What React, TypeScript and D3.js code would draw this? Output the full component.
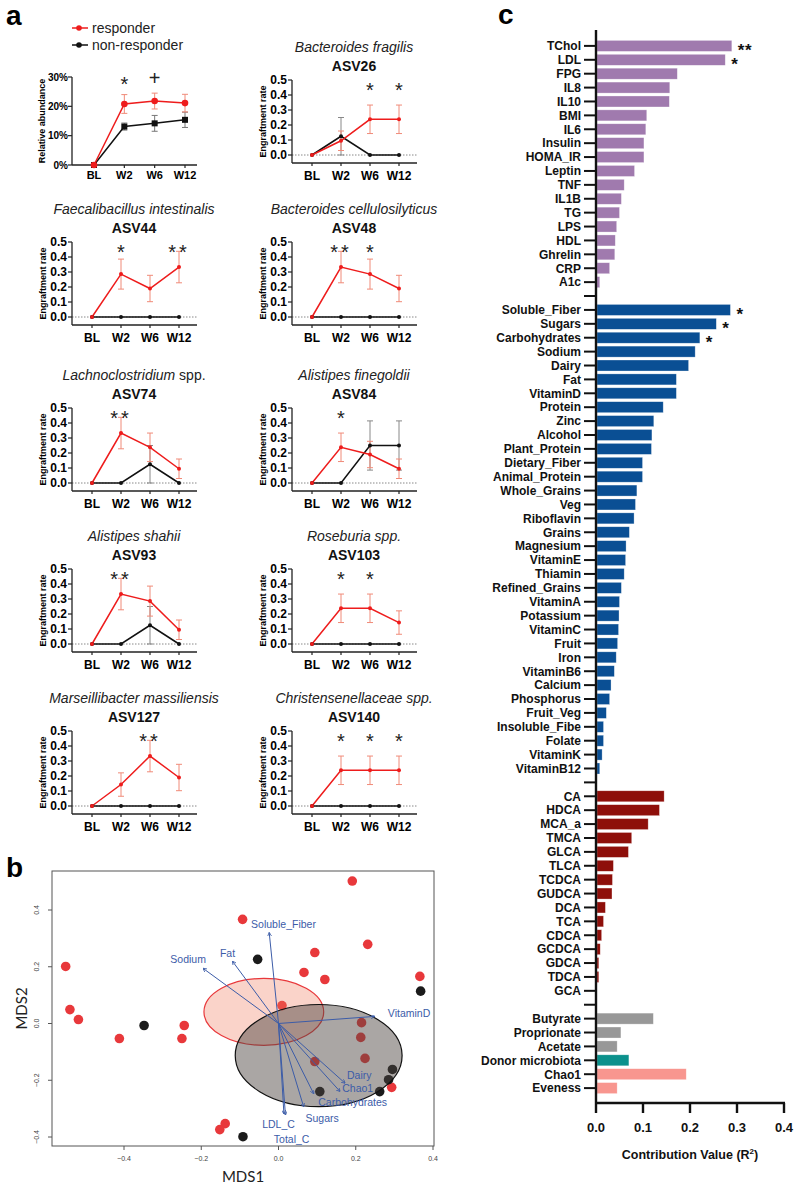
import React from "react";
import * as d3 from "d3";

const FONT = "'Liberation Sans', Arial, Helvetica, sans-serif";

// ---------- Panel a data ----------
const timepoints = ["BL", "W2", "W6", "W12"];
const relAbundResp = [0, 20.8, 21.8, 21.1];
const relAbundRespErr = [0, 3.2, 2.7, 3.0];
const relAbundNon = [0, 13.1, 14.2, 15.4];
const relAbundNonErr = [0, 1.2, 2.7, 2.6];
const relAbundMarks = ["", "*", "+", ""];
const relAbundTicks = [0, 10, 20, 30];

const asvIds = ["ASV26", "ASV44", "ASV48", "ASV74", "ASV84", "ASV93", "ASV103", "ASV127", "ASV140"];
const asvSpecies = [
  "Bacteroides fragilis",
  "Faecalibacillus intestinalis",
  "Bacteroides cellulosilyticus",
  "Lachnoclostridium",
  "Alistipes finegoldii",
  "Alistipes shahii",
  "Roseburia spp.",
  "Marseillibacter massiliensis",
  "Christensenellaceae spp.",
];
const asvSuffix = ["", "", "", " spp.", "", "", "", "", ""];
const respRate = [
  [0, 0.095, 0.238, 0.238],
  [0, 0.286, 0.19, 0.333],
  [0, 0.333, 0.286, 0.19],
  [0, 0.333, 0.238, 0.095],
  [0, 0.238, 0.19, 0.095],
  [0, 0.333, 0.286, 0.095],
  [0, 0.238, 0.238, 0.143],
  [0, 0.143, 0.333, 0.19],
  [0, 0.238, 0.238, 0.238],
];
const respErr = [
  [0, 0.065, 0.095, 0.095],
  [0, 0.1, 0.088, 0.105],
  [0, 0.105, 0.1, 0.088],
  [0, 0.105, 0.095, 0.065],
  [0, 0.095, 0.088, 0.065],
  [0, 0.105, 0.1, 0.065],
  [0, 0.095, 0.095, 0.078],
  [0, 0.078, 0.105, 0.088],
  [0, 0.095, 0.095, 0.095],
];
const nonRate = [
  [0, 0.125, 0, 0],
  [0, 0, 0, 0],
  [0, 0, 0, 0],
  [0, 0, 0.125, 0],
  [0, 0, 0.25, 0.25],
  [0, 0, 0.125, 0],
  [0, 0, 0, 0],
  [0, 0, 0, 0],
  [0, 0, 0, 0],
];
const nonErr = [
  [0, 0.125, 0, 0],
  [0, 0, 0, 0],
  [0, 0, 0, 0],
  [0, 0, 0.125, 0],
  [0, 0, 0.164, 0.164],
  [0, 0, 0.125, 0],
  [0, 0, 0, 0],
  [0, 0, 0, 0],
  [0, 0, 0, 0],
];
const asvMarks = [
  ["", "", "*", "*"],
  ["", "*", "", "**"],
  ["", "**", "*", ""],
  ["", "**", "", ""],
  ["", "*", "", ""],
  ["", "**", "", ""],
  ["", "*", "*", ""],
  ["", "", "**", ""],
  ["", "*", "*", "*"],
];
const rateTicks = [0, 0.1, 0.2, 0.3, 0.4, 0.5];

// ---------- Panel b data ----------
const respMDS1 = [-0.551, -0.54, -0.518, -0.412, -0.244, -0.25, -0.093, 0.094, 0.066, 0.12, 0.231, 0.191, 0.009, 0.215, 0.213, 0.224, 0.094, 0.293, -0.138, -0.152, 0.366];
const respMDS2 = [0.201, 0.049, 0.014, -0.053, -0.007, -0.053, 0.367, 0.25, 0.18, 0.155, 0.279, 0.502, 0.063, 0.003, -0.049, -0.123, -0.134, -0.225, -0.353, -0.374, 0.166];
const nonMDS1 = [-0.054, -0.348, -0.092, 0.107, 0.262, 0.285, 0.295, 0.368];
const nonMDS2 = [0.226, -0.007, -0.399, -0.24, -0.24, -0.198, -0.162, 0.114];
const mdsTicks = [-0.4, -0.2, 0, 0.2, 0.4];
const vecNames = ["Soluble_Fiber", "Fat", "Sodium", "VitaminD", "Dairy", "Chao1", "Carbohydrates", "Sugars", "LDL_C", "Total_C"];
const vecX = [-0.024, -0.119, -0.195, 0.249, 0.172, 0.159, 0.091, 0.065, 0.014, 0.018];
const vecY = [0.32, 0.219, 0.194, 0.025, -0.21, -0.239, -0.247, -0.293, -0.318, -0.322];
const vecLabelX = [0.013, -0.132, -0.234, 0.338, 0.209, 0.205, 0.192, 0.113, 0.0, 0.034];
const vecLabelY = [0.349, 0.25, 0.226, 0.036, -0.18, -0.229, -0.275, -0.332, -0.353, -0.406];
// ellipses: center x, center y, radius x, radius y
const respEllipse = [-0.038, 0.041, 0.155, 0.118];
const nonEllipse = [0.104, -0.113, 0.216, 0.18];

// ---------- Panel c data ----------
const hostLabels = ["TChol", "LDL", "FPG", "IL8", "IL10", "BMI", "IL6", "Insulin", "HOMA_IR", "Leptin", "TNF", "IL1B", "TG", "LPS", "HDL", "Ghrelin", "CRP", "A1c"];
const hostValues = [0.289, 0.275, 0.173, 0.157, 0.156, 0.108, 0.106, 0.102, 0.102, 0.082, 0.06, 0.054, 0.05, 0.044, 0.041, 0.04, 0.029, 0.008];
const dietLabels = ["Soluble_Fiber", "Sugars", "Carbohydrates", "Sodium", "Dairy", "Fat", "VitaminD", "Protein", "Zinc", "Alcohol", "Plant_Protein", "Dietary_Fiber", "Animal_Protein", "Whole_Grains", "Veg", "Riboflavin", "Grains", "Magnesium", "VitaminE", "Thiamin", "Refined_Grains", "VitaminA", "Potassium", "VitaminC", "Fruit", "Iron", "VitaminB6", "Calcium", "Phosphorus", "Fruit_Veg", "Insoluble_Fibe", "Folate", "VitaminK", "VitaminB12"];
const dietValues = [0.286, 0.256, 0.221, 0.211, 0.197, 0.171, 0.171, 0.143, 0.123, 0.119, 0.118, 0.099, 0.099, 0.087, 0.084, 0.081, 0.071, 0.064, 0.063, 0.06, 0.054, 0.05, 0.049, 0.048, 0.046, 0.043, 0.039, 0.032, 0.029, 0.022, 0.016, 0.016, 0.013, 0.008];
const bileLabels = ["CA", "HDCA", "MCA_a", "TMCA", "GLCA", "TLCA", "TCDCA", "GUDCA", "DCA", "TCA", "CDCA", "GCDCA", "GDCA", "TDCA", "GCA"];
const bileValues = [0.145, 0.135, 0.111, 0.076, 0.069, 0.037, 0.035, 0.034, 0.02, 0.016, 0.012, 0.009, 0.006, 0.006, 0];
const otherLabels = ["Butyrate", "Proprionate", "Acetate", "Donor microbiota", "Chao1", "Eveness"];
const otherValues = [0.122, 0.053, 0.045, 0.07, 0.192, 0.045];
const otherColors = ["#989898", "#989898", "#989898", "#0b918c", "#f8968f", "#f8968f"];
const barStars: Record<string, string> = { TChol: "**", LDL: "*", Soluble_Fiber: "*", Sugars: "*", Carbohydrates: "*" };
const contribTicks = [0, 0.1, 0.2, 0.3, 0.4];

const RED = "#ee1c1c";
const RED_ERR = "#f08a78";
const BLACK = "#111";

type Row = { key: string; label: string; value: number; color: string };

function buildRows(): Row[] {
  const rows: Row[] = [];
  hostLabels.forEach((l, i) => rows.push({ key: "h_" + l, label: l, value: hostValues[i], color: "#a07aae" }));
  rows.push({ key: "gap1", label: "", value: 0, color: "none" });
  dietLabels.forEach((l, i) => rows.push({ key: "d_" + l, label: l, value: dietValues[i], color: "#0a4f94" }));
  rows.push({ key: "gap2", label: "", value: 0, color: "none" });
  bileLabels.forEach((l, i) => rows.push({ key: "b_" + l, label: l, value: bileValues[i], color: "#8e0f0a" }));
  rows.push({ key: "gap3", label: "", value: 0, color: "none" });
  otherLabels.forEach((l, i) => rows.push({ key: "o_" + l, label: l, value: otherValues[i], color: otherColors[i] }));
  return rows;
}

function ErrBar({ x, y0, y1, color }: { x: number; y0: number; y1: number; color: string }) {
  return (
    <g stroke={color} strokeWidth={1}>
      <line x1={x} x2={x} y1={y0} y2={y1} />
      <line x1={x - 3} x2={x + 3} y1={y0} y2={y0} />
      <line x1={x - 3} x2={x + 3} y1={y1} y2={y1} />
    </g>
  );
}

function StarMark({ x, y, s }: { x: number; y: number; s: string }) {
  if (!s) return null;
  const isPlus = s === "+";
  return (
    <text x={x} y={y} textAnchor="middle" fontFamily={FONT} fontSize={isPlus ? 20 : 20} letterSpacing={s.length > 1 ? 3 : 0} fill="#222">
      {s}
    </text>
  );
}

function AbundancePanel() {
  const x0 = 72;
  const x = d3.scalePoint<string>().domain(timepoints).range([94, 185]);
  const y = d3.scaleLinear().domain([0, 30]).range([165, 77]);
  const line = d3.line<number>().x((_, i) => x(timepoints[i])!).y((d) => y(d));
  return (
    <g fontFamily={FONT}>
      {/* legend */}
      <line x1={72} x2={88} y1={28} y2={28} stroke={RED} strokeWidth={1.5} />
      <circle cx={79} cy={28} r={2.8} fill={RED} />
      <text x={92} y={33} fontSize={14} fill="#222">responder</text>
      <line x1={72} x2={88} y1={45} y2={45} stroke={BLACK} strokeWidth={1.5} />
      <circle cx={79} cy={45} r={2.8} fill={BLACK} />
      <text x={92} y={50} fontSize={14} fill="#222">non-responder</text>

      <line x1={x0} x2={x0} y1={y(30)} y2={y(0)} stroke="#222" strokeWidth={1.3} />
      <line x1={x0} x2={x0 + 125} y1={y(0)} y2={y(0)} stroke="#222" strokeWidth={1.3} />
      {relAbundTicks.map((t) => (
        <g key={t}>
          <line x1={x0 - 4} x2={x0} y1={y(t)} y2={y(t)} stroke="#222" strokeWidth={1.2} />
          <text x={x0 - 4} y={y(t) + 3.5} fontSize={10} fontWeight="bold" textAnchor="end">{t + "%"}</text>
        </g>
      ))}
      {timepoints.map((t) => (
        <g key={t}>
          <line x1={x(t)} x2={x(t)} y1={y(0)} y2={y(0) + 3} stroke="#222" strokeWidth={1.2} />
          <text x={x(t)} y={y(0) + 14} fontSize={11} fontWeight="bold" textAnchor="middle">{t}</text>
        </g>
      ))}
      <text transform={`translate(45,${(y(30) + y(0)) / 2}) rotate(-90)`} fontSize={9} fontWeight="bold" textAnchor="middle">Relative abundance</text>

      {relAbundNon.map((v, i) => relAbundNonErr[i] > 0 ? (
        <ErrBar key={"ne" + i} x={x(timepoints[i])!} y0={y(v - relAbundNonErr[i])} y1={y(v + relAbundNonErr[i])} color="#777" />
      ) : null)}
      {relAbundResp.map((v, i) => relAbundRespErr[i] > 0 ? (
        <ErrBar key={"re" + i} x={x(timepoints[i])!} y0={y(v - relAbundRespErr[i])} y1={y(v + relAbundRespErr[i])} color={RED_ERR} />
      ) : null)}
      <path d={line(relAbundNon)!} fill="none" stroke={BLACK} strokeWidth={1.5} />
      <path d={line(relAbundResp)!} fill="none" stroke={RED} strokeWidth={1.5} />
      {relAbundNon.map((v, i) => (
        <rect key={"ns" + i} x={x(timepoints[i])! - 3} y={y(v) - 3} width={6} height={6} fill={BLACK} />
      ))}
      {relAbundResp.map((v, i) => (
        <circle key={"rc" + i} cx={x(timepoints[i])!} cy={y(v)} r={3.3} fill={RED} />
      ))}
      {relAbundMarks.map((m, i) => (
        <StarMark key={"m" + i} x={x(timepoints[i])!} y={y(30) + (m === "+" ? 8 : 14)} s={m} />
      ))}
    </g>
  );
}

function EngraftPanel({ i, x0, top }: { i: number; x0: number; top: number }) {
  const x = d3.scalePoint<string>().domain(timepoints).range([x0 + 20, x0 + 107]);
  const y = d3.scaleLinear().domain([0, 0.5]).range([top + 75, top]);
  const line = d3.line<number>().x((_, k) => x(timepoints[k])!).y((d) => y(d));
  const axisY = y(0) + 8;
  const cx = x0 + 62;
  return (
    <g fontFamily={FONT}>
      <text x={cx} y={top - 28} fontSize={14} textAnchor="middle" fill="#222">
        <tspan fontStyle="italic">{asvSpecies[i]}</tspan>
        {asvSuffix[i] ? <tspan>{asvSuffix[i]}</tspan> : null}
      </text>
      <text x={cx} y={top - 9} fontSize={14} fontWeight="bold" textAnchor="middle" fill="#111">{asvIds[i]}</text>

      <line x1={x0} x2={x0 + 125} y1={y(0)} y2={y(0)} stroke="#888" strokeWidth={1} strokeDasharray="1.5,1.5" />
      <line x1={x0} x2={x0} y1={y(0.5)} y2={axisY} stroke="#222" strokeWidth={1.3} />
      <line x1={x0} x2={x0 + 125} y1={axisY} y2={axisY} stroke="#222" strokeWidth={1.3} />
      {rateTicks.map((t) => (
        <g key={t}>
          <line x1={x0 - 4} x2={x0} y1={y(t)} y2={y(t)} stroke="#222" strokeWidth={1.2} />
          <text x={x0 - 5} y={y(t) + 4} fontSize={12} fontWeight="bold" textAnchor="end">{d3.format(".1f")(t)}</text>
        </g>
      ))}
      {timepoints.map((t) => (
        <g key={t}>
          <line x1={x(t)} x2={x(t)} y1={axisY} y2={axisY + 3} stroke="#222" strokeWidth={1.2} />
          <text x={x(t)} y={axisY + 17} fontSize={12} fontWeight="bold" textAnchor="middle">{t}</text>
        </g>
      ))}
      <text transform={`translate(${x0 - 26},${y(0.25) + 4}) rotate(-90)`} fontSize={9} fontWeight="bold" textAnchor="middle">Engraftment rate</text>

      {nonRate[i].map((v, k) => nonErr[i][k] > 0 ? (
        <ErrBar key={"ne" + k} x={x(timepoints[k])!} y0={y(Math.max(0, v - nonErr[i][k]))} y1={y(v + nonErr[i][k])} color="#888" />
      ) : null)}
      {respRate[i].map((v, k) => respErr[i][k] > 0 ? (
        <ErrBar key={"re" + k} x={x(timepoints[k])!} y0={y(v - respErr[i][k])} y1={y(v + respErr[i][k])} color={RED_ERR} />
      ) : null)}
      <path d={line(nonRate[i])!} fill="none" stroke={BLACK} strokeWidth={1.5} />
      <path d={line(respRate[i])!} fill="none" stroke={RED} strokeWidth={1.5} />
      {nonRate[i].map((v, k) => (
        <circle key={"nc" + k} cx={x(timepoints[k])!} cy={y(v)} r={2} fill={BLACK} />
      ))}
      {respRate[i].map((v, k) => (
        <circle key={"rc" + k} cx={x(timepoints[k])!} cy={y(v)} r={2} fill={RED} />
      ))}
      {asvMarks[i].map((m, k) => (
        <StarMark key={"m" + k} x={x(timepoints[k])!} y={top + 17} s={m} />
      ))}
    </g>
  );
}

function MDSPanel() {
  const x = d3.scaleLinear().domain([-0.4, 0.4]).range([124, 433]);
  const y = d3.scaleLinear().domain([-0.4, 0.4]).range([1137, 910]);
  const box = { l: 52, r: 434, t: 871, b: 1146 };
  const BLUE = "#3c5ca8";
  const ell = (e: number[]) => ({
    cx: x(e[0]),
    cy: y(e[1]),
    rx: x(e[0] + e[2]) - x(e[0]),
    ry: y(e[1]) - y(e[1] + e[3]),
  });
  const re = ell(respEllipse);
  const ne = ell(nonEllipse);
  return (
    <g>
      <defs>
        <marker id="arr" viewBox="0 0 10 10" refX="9" refY="5" markerWidth="4" markerHeight="4" orient="auto">
          <path d="M0,0 L10,5 L0,10" fill="none" stroke={BLUE} strokeWidth={2} />
        </marker>
      </defs>
      <rect x={box.l} y={box.t} width={box.r - box.l} height={box.b - box.t} fill="none" stroke="#555" strokeWidth={1} />
      {mdsTicks.map((t) => (
        <g key={"x" + t}>
          <line x1={x(t)} x2={x(t)} y1={box.b} y2={box.b + 4} stroke="#555" />
          <text x={x(t)} y={box.b + 15} fontSize={7} fontFamily={FONT} fill="#444" textAnchor="middle">{d3.format(".1f")(t)}</text>
        </g>
      ))}
      {mdsTicks.map((t) => (
        <g key={"y" + t}>
          <line x1={box.l - 4} x2={box.l} y1={y(t)} y2={y(t)} stroke="#555" />
          <text transform={`translate(${box.l - 13},${y(t)}) rotate(-90)`} fontSize={7} fontFamily={FONT} fill="#444" textAnchor="middle">{d3.format(".1f")(t)}</text>
        </g>
      ))}
      <text x={(box.l + box.r) / 2} y={1182} fontSize={15} fontFamily="Lato, 'Open Sans', sans-serif" textAnchor="middle" fill="#222">MDS1</text>
      <text transform={`translate(27,${(box.t + box.b) / 2}) rotate(-90)`} fontSize={15} fontFamily="Lato, 'Open Sans', sans-serif" textAnchor="middle" fill="#222">MDS2</text>

      {respMDS1.map((v, i) => (
        <circle key={"r" + i} cx={x(v)} cy={y(respMDS2[i])} r={4.8} fill="#e8383b" />
      ))}
      {nonMDS1.map((v, i) => (
        <circle key={"n" + i} cx={x(v)} cy={y(nonMDS2[i])} r={4.8} fill="#1b1b1b" />
      ))}
      <ellipse cx={re.cx} cy={re.cy} rx={re.rx} ry={re.ry} fill="#ef7a5a" fillOpacity={0.33} stroke="#e8383b" strokeWidth={1.2} />
      <ellipse cx={ne.cx} cy={ne.cy} rx={ne.rx} ry={ne.ry} fill="#4d4540" fillOpacity={0.48} stroke="#111" strokeWidth={1.2} />

      {vecNames.map((n, i) => (
        <line key={"v" + n} x1={x(0)} y1={y(0)} x2={x(vecX[i])} y2={y(vecY[i])} stroke={BLUE} strokeWidth={1} markerEnd="url(#arr)" />
      ))}
      {vecNames.map((n, i) => (
        <text key={"t" + n} x={x(vecLabelX[i])} y={y(vecLabelY[i]) + 4} fontSize={10.5} fontFamily={FONT} fill={BLUE} textAnchor="middle">{n}</text>
      ))}
    </g>
  );
}

function ContribPanel() {
  const rows = buildRows();
  const x = d3.scaleLinear().domain([0, 0.4]).range([596, 784]);
  const y = d3.scalePoint<string>().domain(rows.map((r) => r.key)).range([32, 1102]).padding(1);
  const axisBottom = 1103;
  const barH = 11;
  return (
    <g fontFamily={FONT}>
      {rows.map((r) => (
        <g key={r.key}>
          <line x1={584} x2={596} y1={y(r.key)} y2={y(r.key)} stroke="#111" strokeWidth={2} />
          {r.label ? (
            <text x={581} y={y(r.key)! + 4.3} fontSize={12} fontWeight="bold" textAnchor="end" fill="#111">{r.label}</text>
          ) : null}
          {r.value > 0 ? (
            <rect x={x(0) + 1} y={y(r.key)! - barH / 2} width={x(r.value) - x(0) - 1} height={barH} fill={r.color} stroke="#ffffff" strokeOpacity={0.5} strokeWidth={0.6} />
          ) : null}
          {barStars[r.label] && r.key !== "o_Chao1" ? (
            <text x={x(r.value) + 6} y={y(r.key)! + 10} fontSize={17} fontWeight="bold" fill="#111" letterSpacing={0.5}>{barStars[r.label]}</text>
          ) : null}
        </g>
      ))}
      <line x1={596} x2={596} y1={30} y2={axisBottom} stroke="#111" strokeWidth={2.4} />
      <line x1={596} x2={785} y1={axisBottom} y2={axisBottom} stroke="#111" strokeWidth={2.4} />
      {contribTicks.map((t) => (
        <g key={t}>
          <line x1={x(t)} x2={x(t)} y1={axisBottom} y2={axisBottom + 10} stroke="#111" strokeWidth={2.4} />
          <text x={x(t)} y={axisBottom + 29} fontSize={13} fontWeight="bold" textAnchor="middle" fill="#111">{d3.format(".1f")(t)}</text>
        </g>
      ))}
      <text x={690} y={1159} fontSize={12.5} fontWeight="bold" textAnchor="middle" fill="#111">
        Contribution Value (R<tspan dy={-5} fontSize={8}>2</tspan><tspan dy={5}>)</tspan>
      </text>
    </g>
  );
}

export default function App() {
  const leftX = 72;
  const rightX = 292;
  const rowTops = [80, 242, 408, 569, 731];
  return (
    <div style={{ position: "absolute", left: 0, top: 0 }}>
      <svg width={800} height={1187} viewBox="0 0 800 1187" style={{ display: "block", background: "#fff" }}>
        <rect width={800} height={1187} fill="#fff" />
        <text x={6} y={25} fontSize={28} fontWeight="bold" fontFamily={FONT}>a</text>
        <text x={6} y={877} fontSize={28} fontWeight="bold" fontFamily={FONT}>b</text>
        <text x={498} y={24} fontSize={28} fontWeight="bold" fontFamily={FONT}>c</text>
        <AbundancePanel />
        {asvIds.map((id, i) => {
          const row = Math.floor((i + 1) / 2);
          const x0 = i % 2 === 1 ? leftX : rightX;
          return <EngraftPanel key={id} i={i} x0={x0} top={rowTops[row]} />;
        })}
        <MDSPanel />
        <ContribPanel />
      </svg>
    </div>
  );
}
